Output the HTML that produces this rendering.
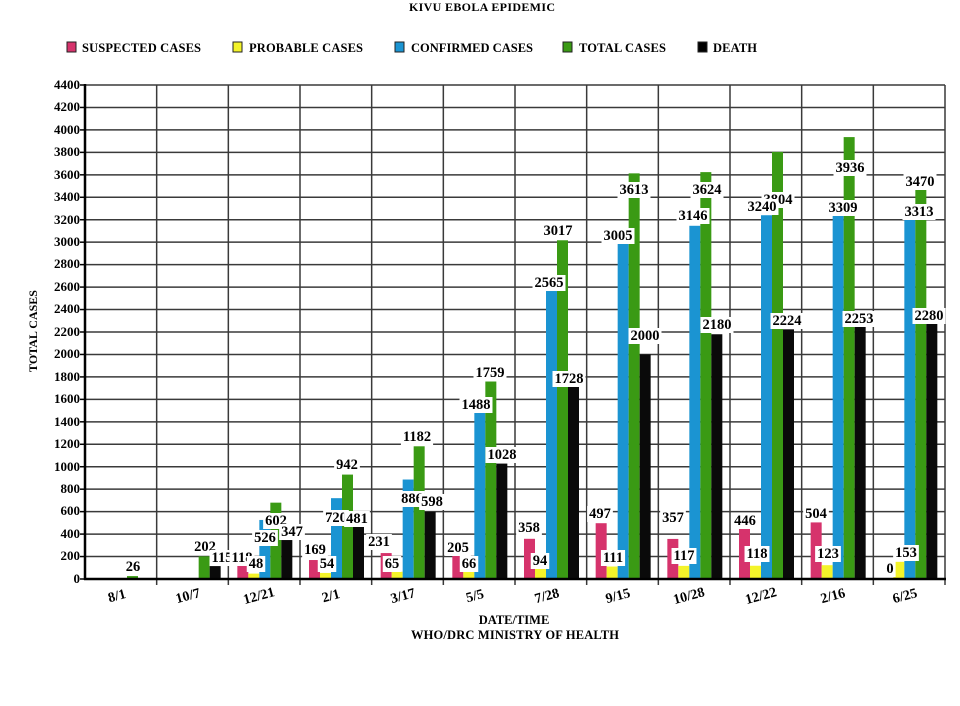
<!DOCTYPE html>
<html><head><meta charset="utf-8"><style>
html,body{margin:0;padding:0;background:#fff;}
svg{display:block;font-family:"Liberation Serif",serif;font-weight:bold;}
</style></head><body>
<svg id="s" width="960" height="706" viewBox="0 0 960 706" xmlns="http://www.w3.org/2000/svg">
<rect width="960" height="706" fill="#fff"/>
<g id="grid"></g>
<g id="bars"></g>
<line x1="85" y1="84" x2="85" y2="580" stroke="#000" stroke-width="2.5"/>
<line x1="84" y1="579" x2="946" y2="579" stroke="#000" stroke-width="2.5"/>
<text x="482" y="11" font-size="12" text-anchor="middle" textLength="146">KIVU EBOLA EPIDEMIC</text>
<g font-size="12.5">
<rect x="67" y="42" width="9" height="10" fill="#d6336c" stroke="#222"/><text x="82" y="52" textLength="119">SUSPECTED CASES</text>
<rect x="233" y="42" width="9" height="10" fill="#f4f42a" stroke="#222"/><text x="249" y="52" textLength="114">PROBABLE CASES</text>
<rect x="395" y="42" width="9" height="10" fill="#1b94d2" stroke="#222"/><text x="411" y="52" textLength="122">CONFIRMED CASES</text>
<rect x="563" y="42" width="9" height="10" fill="#3a9a14" stroke="#222"/><text x="579" y="52" textLength="87">TOTAL CASES</text>
<rect x="698" y="42" width="9" height="10" fill="#000" stroke="#222"/><text x="713" y="52" textLength="44">DEATH</text>
</g>
<g font-size="13" text-anchor="end" id="yl">
<text x="80" y="89">4400</text><text x="80" y="111">4200</text><text x="80" y="134">4000</text><text x="80" y="156">3800</text><text x="80" y="179">3600</text><text x="80" y="201">3400</text><text x="80" y="224">3200</text><text x="80" y="246">3000</text><text x="80" y="268">2800</text><text x="80" y="291">2600</text><text x="80" y="313">2400</text><text x="80" y="336">2200</text><text x="80" y="358">2000</text><text x="80" y="381">1800</text><text x="80" y="403">1600</text><text x="80" y="426">1400</text><text x="80" y="448">1200</text><text x="80" y="471">1000</text><text x="80" y="493">800</text><text x="80" y="515">600</text><text x="80" y="538">400</text><text x="80" y="560">200</text><text x="80" y="583">0</text>
</g>
<text transform="translate(37,331) rotate(-90)" font-size="12" text-anchor="middle">TOTAL CASES</text>
<g font-size="14" text-anchor="middle">
<text transform="translate(118,600) rotate(-15)">8/1</text>
<text transform="translate(189,600) rotate(-15)">10/7</text>
<text transform="translate(260,600) rotate(-15)">12/21</text>
<text transform="translate(332,600) rotate(-15)">2/1</text>
<text transform="translate(404,600) rotate(-15)">3/17</text>
<text transform="translate(476,600) rotate(-15)">5/5</text>
<text transform="translate(548,600) rotate(-15)">7/28</text>
<text transform="translate(619,600) rotate(-15)">9/15</text>
<text transform="translate(690,600) rotate(-15)">10/28</text>
<text transform="translate(762,600) rotate(-15)">12/22</text>
<text transform="translate(834,600) rotate(-15)">2/16</text>
<text transform="translate(906,600) rotate(-15)">6/25</text>
</g>
<text x="514" y="624" font-size="12.5" text-anchor="middle">DATE/TIME</text>
<text x="515" y="639" font-size="12.5" text-anchor="middle" textLength="208">WHO/DRC MINISTRY OF HEALTH</text>
<g id="labels" font-size="14.5" text-anchor="middle" dominant-baseline="central">
<text x="133" y="567">26</text><text x="205" y="547">202</text><text x="276" y="521">602</text><text x="347" y="465">942</text><text x="417" y="437">1182</text><text x="490" y="373">1759</text><text x="558" y="231">3017</text><text x="634" y="190">3613</text><text x="707" y="190">3624</text><text x="778" y="200">3804</text><text x="850" y="168">3936</text><text x="920" y="182">3470</text>
<text x="265" y="538">526</text><text x="336" y="518">720</text><text x="412" y="499">886</text><text x="476" y="405">1488</text><text x="549" y="283">2565</text><text x="618" y="236">3005</text><text x="693" y="216">3146</text><text x="762" y="207">3240</text><text x="843" y="208">3309</text><text x="919" y="212">3313</text>
<text x="222" y="558">115</text><text x="292" y="532">347</text><text x="357" y="519">481</text><text x="432" y="502">598</text><text x="502" y="455">1028</text><text x="569" y="379">1728</text><text x="645" y="336">2000</text><text x="717" y="325">2180</text><text x="787" y="321">2224</text><text x="859" y="319">2253</text><text x="929" y="316">2280</text>
<text x="242" y="558">118</text><text x="315" y="550">169</text><text x="379" y="542">231</text><text x="458" y="548">205</text><text x="529" y="528">358</text><text x="600" y="514">497</text><text x="673" y="518">357</text><text x="745" y="521">446</text><text x="816" y="514">504</text><text x="890" y="569">0</text>
<text x="256" y="564">48</text><text x="327" y="564">54</text><text x="392" y="564">65</text><text x="469" y="564">66</text><text x="540" y="561">94</text><text x="613" y="558">111</text><text x="684" y="556">117</text><text x="757" y="554">118</text><text x="828" y="554">123</text><text x="906" y="553">153</text>
</g>
</svg>
<script>
var NS="http://www.w3.org/2000/svg";
function el(p,t,a){var e=document.createElementNS(NS,t);for(var k in a)e.setAttribute(k,a[k]);p.appendChild(e);return e;}
var g=document.getElementById("grid"),b=document.getElementById("bars");
var y0=579,k=(579-85)/4400,cw=(945-85)/12;
for(var i=0;i<=22;i++){var y=y0-i*200*k;el(g,"line",{x1:85,x2:945,y1:y,y2:y,stroke:"#3a3a3a","stroke-width":1.5});el(g,"line",{x1:80,x2:85,y1:y,y2:y,stroke:"#000","stroke-width":1.5});}
for(var i=1;i<=12;i++){var x=85+i*cw;el(g,"line",{x1:x,x2:x,y1:85,y2:585,stroke:"#3a3a3a","stroke-width":1.5});}
var d=[[0,0,0,26,0],[0,0,0,202,115],[118,48,526,680,347],[169,54,720,930,481],[231,65,886,1182,598],[205,66,1488,1759,1028],[358,94,2565,3017,1728],[497,111,3005,3613,2000],[357,117,3146,3624,2180],[446,118,3240,3804,2224],[504,123,3309,3936,2253],[0,153,3313,3470,2280]];
var c=["#d6336c","#f4f42a","#1b94d2","#3a9a14","#0a0a0a"];
for(var i=0;i<12;i++)for(var j=0;j<5;j++){var v=d[i][j];if(!v)continue;var h=v*k;el(b,"rect",{x:85+i*cw+9+11*j,y:y0-h,width:11,height:h,fill:c[j]});}
var L=document.getElementById("labels");
Array.prototype.forEach.call(L.querySelectorAll("text"),function(t){var bb=t.getBBox();var r=document.createElementNS(NS,"rect");r.setAttribute("x",bb.x-2);r.setAttribute("y",bb.y);r.setAttribute("width",bb.width+4);r.setAttribute("height",bb.height);r.setAttribute("fill","#fff");L.insertBefore(r,t);});
</script>
</body></html>
